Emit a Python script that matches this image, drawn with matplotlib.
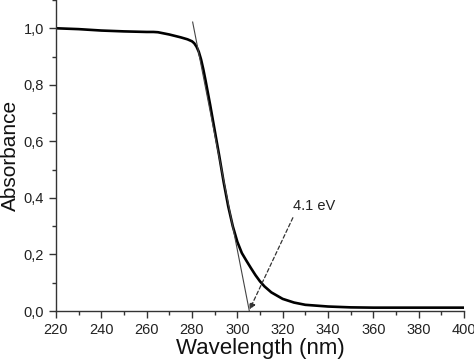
import matplotlib
matplotlib.use("Agg")
import matplotlib.pyplot as plt
from matplotlib.ticker import MultipleLocator, FuncFormatter

plt.rcParams['font.family'] = ['Liberation Sans', 'DejaVu Sans']

# absorbance spectrum
wavelength = [220, 230, 240, 250, 255, 260, 263, 265, 270, 275, 278, 280, 281,
              282, 283, 284, 285, 286, 288, 290, 292, 294, 296, 298, 300, 302,
              304, 306, 308, 310, 312, 315, 320, 325, 330, 340, 350, 360, 380, 400]
absorbance = [1.000, 0.997, 0.992, 0.989, 0.988, 0.987, 0.987, 0.986, 0.978,
              0.968, 0.961, 0.954, 0.947, 0.935, 0.917, 0.890, 0.855, 0.815,
              0.730, 0.640, 0.550, 0.455, 0.370, 0.300, 0.245, 0.205, 0.178,
              0.152, 0.127, 0.105, 0.087, 0.066, 0.043, 0.030, 0.022, 0.016,
              0.013, 0.012, 0.012, 0.012]

# tangent used for the band-edge extrapolation
tangent_x = [280.3, 305.3]
tangent_y = [1.022, 0.0]

gap_label = "4.1 eV"
label_xy = (324.5, 0.372)
arrow_from = (324.5, 0.33)
arrow_to = (305.4, 0.005)

fig = plt.figure(figsize=(4.74, 3.6), dpi=100)
ax = fig.add_axes([0.118, 0.136, 0.861, 0.864])

ax.plot(wavelength, absorbance, color='black', lw=1.9)
ax.plot(tangent_x, tangent_y, color='#444444', lw=0.8)

ax.annotate('', xy=arrow_to, xytext=arrow_from,
            arrowprops=dict(arrowstyle='-|>', linestyle=(0, (3, 2)),
                            color='#333333', lw=0.9, mutation_scale=9,
                            shrinkA=0, shrinkB=0))
ax.text(label_xy[0], label_xy[1], gap_label, fontsize=10.5, ha='left', va='center',
        color='#222222')

ax.set_xlim(220, 400)
ax.set_ylim(0, 1.1)
ax.xaxis.set_major_locator(MultipleLocator(20))
ax.xaxis.set_minor_locator(MultipleLocator(10))
ax.yaxis.set_major_locator(MultipleLocator(0.2))
ax.yaxis.set_minor_locator(MultipleLocator(0.1))
ax.yaxis.set_major_formatter(FuncFormatter(lambda v, p: f"{v:.1f}".replace('.', ',')))

for s in ['top', 'right']:
    ax.spines[s].set_visible(False)
for s in ['left', 'bottom']:
    ax.spines[s].set_linewidth(1.0)
    ax.spines[s].set_color('#333333')

ax.tick_params(which='major', direction='out', length=5, width=1, labelsize=10.5,
               colors='#333333', labelcolor='#222222')
ax.tick_params(which='minor', direction='out', length=3, width=1, colors='#333333')

ax.set_xlabel('Wavelength (nm)', fontsize=16, labelpad=1, color='#111111')
ax.set_ylabel('Absorbance', fontsize=15, labelpad=3, color='#111111')

fig.savefig('out.png', dpi=100)
